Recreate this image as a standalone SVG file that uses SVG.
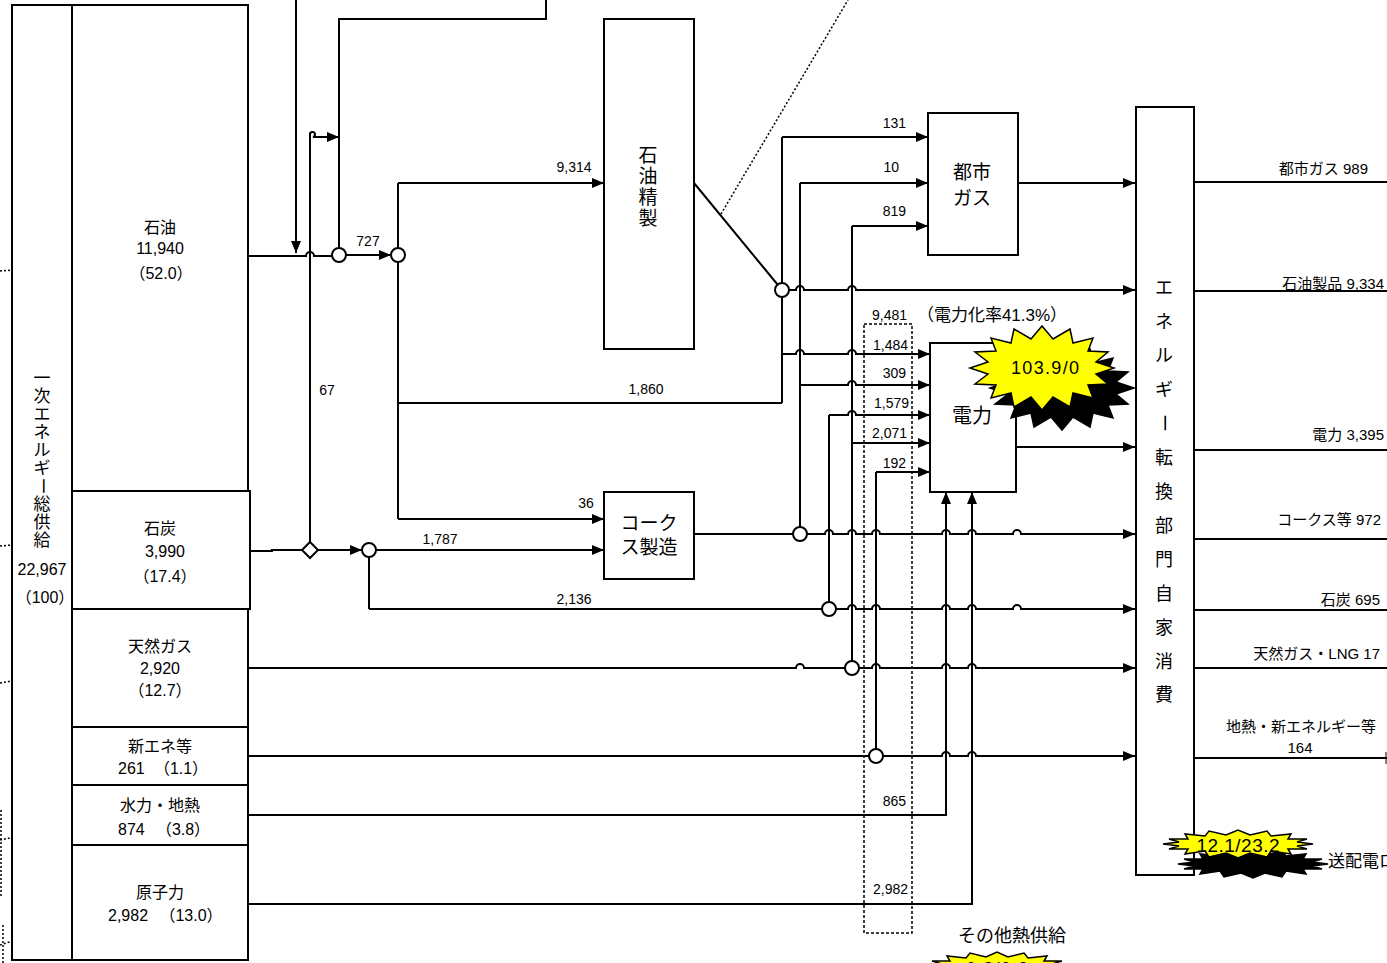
<svg xmlns="http://www.w3.org/2000/svg" width="1387" height="963" viewBox="0 0 1387 963">
<style>
text{font-family:"Liberation Sans","Noto Sans CJK JP",sans-serif;fill:#000;dominant-baseline:central}
.c{text-anchor:middle}
.e{text-anchor:end}
.s{font-size:14px}
.m{font-size:16px}
.r{font-size:15px}
.b{font-size:19px}
.box{fill:#fff;stroke:#000;stroke-width:2}
.ln{fill:none;stroke:#000;stroke-width:2}
.dot{fill:none;stroke:#000;stroke-width:1.5;stroke-dasharray:2 2}
.jn{fill:#fff;stroke:#000;stroke-width:2}
</style>
<defs>
<marker id="a" markerWidth="12" markerHeight="10" refX="12" refY="5" orient="auto" markerUnits="userSpaceOnUse"><path d="M0,0 L12,5 L0,10 z" fill="#000"/></marker>
</defs>
<rect width="1387" height="963" fill="#fff"/>

<g id="dotted">
<path class="dot" d="M0,271 L115,263"/>
<path class="dot" d="M0,546 L113,537"/>
<path class="dot" d="M0,683 L120,663"/>
<path class="dot" d="M0,840 L100,820"/>
<path class="dot" d="M1,810 V898"/>
<path class="dot" d="M0,945 L100,913"/>
<path class="dot" d="M3,925 V963"/>
<path class="dot" d="M721,214 L848,0"/>
</g>

<g id="connectors">
<path class="ln" d="M296,0 V253" marker-end="url(#a)"/>
<path class="ln" d="M546,0 V19 H339 V255"/>
<path class="ln" d="M248,256 H306 a4,4 0 0 1 8,0 H339"/>
<path class="ln" d="M346,255 H391" marker-end="url(#a)"/>
<path class="ln" d="M310,543 V135 A2.5,2.5 0 1 1 313,137 H339" marker-end="url(#a)"/>
<path class="ln" d="M398,183 V519"/>
<path class="ln" d="M398,183 H604" marker-end="url(#a)"/>
<path class="ln" d="M398,519 H604" marker-end="url(#a)"/>
<path class="ln" d="M398,403 H782"/>
<path class="ln" d="M250,551 H272 V550 H302"/>
<path class="ln" d="M318,550 H362" marker-end="url(#a)"/>
<path class="ln" d="M376,550 H604" marker-end="url(#a)"/>
<path class="ln" d="M369,550 V609"/>
<path class="ln" d="M694,183 L782,290"/>
<path class="ln" d="M782,137 V403"/>
<path class="ln" d="M782,137 H928" marker-end="url(#a)"/>
<path class="ln" d="M800,183 V534"/>
<path class="ln" d="M800,183 H928" marker-end="url(#a)"/>
<path class="ln" d="M852,226 V668"/>
<path class="ln" d="M852,226 H928" marker-end="url(#a)"/>
<path class="ln" d="M829,415 V609"/>
<path class="ln" d="M876,472 V756"/>
<path class="ln" d="M782,290 H796 a4,4 0 0 1 8,0 H848 a4,4 0 0 1 8,0 H1135" marker-end="url(#a)"/>
<path class="ln" d="M782,354 H796 a4,4 0 0 1 8,0 H848 a4,4 0 0 1 8,0 H930" marker-end="url(#a)"/>
<path class="ln" d="M800,385 H848 a4,4 0 0 1 8,0 H930" marker-end="url(#a)"/>
<path class="ln" d="M829,415 H848 a4,4 0 0 1 8,0 H930" marker-end="url(#a)"/>
<path class="ln" d="M852,443 H930" marker-end="url(#a)"/>
<path class="ln" d="M876,472 H930" marker-end="url(#a)"/>
<path class="ln" d="M1018,183 H1135" marker-end="url(#a)"/>
<path class="ln" d="M1016,447 H1135" marker-end="url(#a)"/>
<path class="ln" d="M694,534 H825 a4,4 0 0 1 8,0 H848 a4,4 0 0 1 8,0 H872 a4,4 0 0 1 8,0 H942 a4,4 0 0 1 8,0 H968 a4,4 0 0 1 8,0 H1013 a4,4 0 0 1 8,0 H1135" marker-end="url(#a)"/>
<path class="ln" d="M369,609 H848 a4,4 0 0 1 8,0 H872 a4,4 0 0 1 8,0 H942 a4,4 0 0 1 8,0 H968 a4,4 0 0 1 8,0 H1013 a4,4 0 0 1 8,0 H1135" marker-end="url(#a)"/>
<path class="ln" d="M248,668 H796 a4,4 0 0 1 8,0 H872 a4,4 0 0 1 8,0 H942 a4,4 0 0 1 8,0 H968 a4,4 0 0 1 8,0 H1135" marker-end="url(#a)"/>
<path class="ln" d="M248,756 H942 a4,4 0 0 1 8,0 H968 a4,4 0 0 1 8,0 H1135" marker-end="url(#a)"/>
<path class="ln" d="M248,815 H946 V492" marker-end="url(#a)"/>
<path class="ln" d="M248,904 H972 V492" marker-end="url(#a)"/>
<path class="ln" d="M1194,182 H1387"/>
<path class="ln" d="M1194,291 H1387"/>
<path class="ln" d="M1194,450 H1387"/>
<path class="ln" d="M1194,539 H1387"/>
<path class="ln" d="M1194,610 H1387"/>
<path class="ln" d="M1194,668 H1387"/>
<path class="ln" d="M1194,758 H1387"/>
<path class="ln" d="M1386,752 V764" style="stroke-width:1"/>
<rect x="864" y="324" width="48" height="609" fill="none" stroke="#000" stroke-width="1.5" stroke-dasharray="3 2"/>
</g>

<g id="junctions">
<circle class="jn" cx="339" cy="255" r="7"/>
<circle class="jn" cx="398" cy="255" r="7"/>
<path class="jn" d="M310,542 L318,550 L310,558 L302,550 z"/>
<circle class="jn" cx="369" cy="550" r="7"/>
<circle class="jn" cx="782" cy="290" r="7"/>
<circle class="jn" cx="800" cy="534" r="7"/>
<circle class="jn" cx="829" cy="609" r="7"/>
<circle class="jn" cx="852" cy="668" r="7"/>
<circle class="jn" cx="876" cy="756" r="7"/>
</g>

<g id="labels">
<text class="s c" x="368" y="241">727</text>
<text class="s c" x="327" y="390">67</text>
<text class="s c" x="574" y="167">9,314</text>
<text class="s c" x="646" y="389">1,860</text>
<text class="s c" x="586" y="503">36</text>
<text class="s c" x="440" y="539">1,787</text>
<text class="s c" x="574" y="599">2,136</text>
<text class="s e" x="906" y="123">131</text>
<text class="s e" x="899" y="167">10</text>
<text class="s e" x="906" y="211">819</text>
<text class="s e" x="907" y="315">9,481</text>
<text class="s e" x="908" y="345">1,484</text>
<text class="s e" x="906" y="373">309</text>
<text class="s e" x="909" y="403">1,579</text>
<text class="s e" x="907" y="433">2,071</text>
<text class="s e" x="906" y="463">192</text>
<text class="s e" x="906" y="801">865</text>
<text class="s e" x="908" y="889">2,982</text>
<text class="c" x="992" y="315" style="font-size:17px">（電力化率41.3%）</text>
<text class="r e" x="1368" y="168">都市ガス 989</text>
<text class="r e" x="1384" y="283">石油製品 9,334</text>
<text class="r e" x="1384" y="434">電力 3,395</text>
<text class="r e" x="1381" y="519">コークス等 972</text>
<text class="r e" x="1380" y="599">石炭 695</text>
<text class="r e" x="1380" y="653">天然ガス・LNG 17</text>
<text class="r c" x="1301" y="726">地熱・新エネルギー等</text>
<text class="r c" x="1300" y="747">164</text>
<text x="1012" y="936" class="c" style="font-size:18px">その他熱供給</text>
</g>

<g id="total">
<rect class="box" x="12" y="5" width="60" height="955"/>
<text class="c" x="42" y="378" style="font-size:17px">一</text>
<text class="c" x="42" y="396" style="font-size:17px">次</text>
<text class="c" x="42" y="414" style="font-size:17px">エ</text>
<text class="c" x="42" y="432" style="font-size:17px">ネ</text>
<text class="c" x="42" y="450" style="font-size:17px">ル</text>
<text class="c" x="42" y="468" style="font-size:17px">ギ</text>
<text class="c" x="42" y="486" style="font-size:17px" transform="rotate(90 42 486)">ー</text>
<text class="c" x="42" y="504" style="font-size:17px">総</text>
<text class="c" x="42" y="522" style="font-size:17px">供</text>
<text class="c" x="42" y="540" style="font-size:17px">給</text>
<text class="m c" x="42" y="569">22,967</text>
<text class="m c" x="45" y="597">（100）</text>
</g>

<g id="oil">
<rect class="box" x="72" y="5" width="176" height="486"/>
<text class="m c" x="160" y="227">石油</text>
<text class="m c" x="160" y="248">11,940</text>
<text class="m c" x="161" y="273">（52.0）</text>
</g>
<g id="coal">
<rect class="box" x="72" y="491" width="178" height="118"/>
<text class="m c" x="160" y="528">石炭</text>
<text class="m c" x="165" y="551">3,990</text>
<text class="m c" x="165" y="576">（17.4）</text>
</g>
<g id="gas">
<rect class="box" x="72" y="609" width="176" height="118"/>
<text class="m c" x="160" y="646">天然ガス</text>
<text class="m c" x="160" y="668">2,920</text>
<text class="m c" x="160" y="690">（12.7）</text>
</g>
<g id="newene">
<rect class="box" x="72" y="727" width="176" height="58"/>
<text class="m c" x="160" y="746">新エネ等</text>
<text class="m" x="118" y="768">261</text>
<text class="m c" x="181" y="768">（1.1）</text>
</g>
<g id="hydro">
<rect class="box" x="72" y="785" width="176" height="60"/>
<text class="m c" x="160" y="805">水力・地熱</text>
<text class="m" x="118" y="829">874</text>
<text class="m c" x="183" y="829">（3.8）</text>
</g>
<g id="nuclear">
<rect class="box" x="72" y="845" width="176" height="115"/>
<text class="m c" x="160" y="892">原子力</text>
<text class="m" x="108" y="915">2,982</text>
<text class="m c" x="191" y="915">（13.0）</text>
</g>

<g id="refinery">
<rect class="box" x="604" y="19" width="90" height="330"/>
<text class="b c" x="648" y="155">石</text>
<text class="b c" x="648" y="176">油</text>
<text class="b c" x="648" y="197">精</text>
<text class="b c" x="648" y="218">製</text>
</g>
<g id="coke">
<rect class="box" x="604" y="492" width="90" height="87"/>
<text class="b c" x="649" y="523">コーク</text>
<text class="b c" x="649" y="547">ス製造</text>
</g>
<g id="citygas">
<rect class="box" x="928" y="113" width="90" height="142"/>
<text class="b c" x="972" y="172">都市</text>
<text class="b c" x="972" y="198">ガス</text>
</g>
<g id="power">
<rect class="box" x="930" y="343" width="86" height="149"/>
<text class="c" x="972" y="416" style="font-size:20px">電力</text>
</g>
<g id="burst1">
<polygon transform="translate(20,20)" fill="#000" stroke="#000" stroke-width="1.5" points="1114,368 1096,374 1108,384 1088,385 1093,398 1073,393 1070,407 1053,397 1042,410 1031,397 1014,407 1011,393 991,398 996,385 975,384 988,374 970,368 988,362 975,352 996,351 991,338 1011,343 1014,329 1031,339 1042,326 1053,339 1070,329 1073,343 1093,338 1088,351 1108,352 1096,362"/>
<polygon fill="#ff0" stroke="#000" stroke-width="1.5" points="1114,368 1096,374 1108,384 1088,385 1093,398 1073,393 1070,407 1053,397 1042,410 1031,397 1014,407 1011,393 991,398 996,385 975,384 988,374 970,368 988,362 975,352 996,351 991,338 1011,343 1014,329 1031,339 1042,326 1053,339 1070,329 1073,343 1093,338 1088,351 1108,352 1096,362"/>
<text class="c" x="1045" y="368" style="font-size:18px" textLength="68" lengthAdjust="spacing">103.9/0</text>
</g>
<g id="conversion">
<rect class="box" x="1136" y="107" width="58" height="768"/>
<text class="c" x="1164" y="288" style="font-size:18px">エ</text>
<text class="c" x="1164" y="322" style="font-size:18px">ネ</text>
<text class="c" x="1164" y="356" style="font-size:18px">ル</text>
<text class="c" x="1164" y="390" style="font-size:18px">ギ</text>
<text class="c" x="1164" y="423" style="font-size:18px" transform="rotate(90 1164 423)">ー</text>
<text class="c" x="1164" y="458" style="font-size:18px">転</text>
<text class="c" x="1164" y="492" style="font-size:18px">換</text>
<text class="c" x="1164" y="526" style="font-size:18px">部</text>
<text class="c" x="1164" y="560" style="font-size:18px">門</text>
<text class="c" x="1164" y="594" style="font-size:18px">自</text>
<text class="c" x="1164" y="628" style="font-size:18px">家</text>
<text class="c" x="1164" y="662" style="font-size:18px">消</text>
<text class="c" x="1164" y="695" style="font-size:18px">費</text>
</g>
<g id="burst2">
<polygon transform="translate(15,20)" fill="#000" stroke="#000" stroke-width="1.5" points="1313,844 1297,846 1307,849 1288,849 1291,854 1271,851 1267,857 1250,853 1238,858 1226,853 1209,857 1205,851 1185,854 1188,849 1169,849 1179,846 1163,844 1179,842 1169,839 1188,839 1185,834 1205,836 1209,831 1226,835 1238,830 1250,835 1267,831 1271,836 1291,834 1288,839 1307,839 1297,842"/>
<polygon fill="#ff0" stroke="#000" stroke-width="1.5" points="1313,844 1297,846 1307,849 1288,849 1291,854 1271,851 1267,857 1250,853 1238,858 1226,853 1209,857 1205,851 1185,854 1188,849 1169,849 1179,846 1163,844 1179,842 1169,839 1188,839 1185,834 1205,836 1209,831 1226,835 1238,830 1250,835 1267,831 1271,836 1291,834 1288,839 1307,839 1297,842"/>
<text class="c" x="1238" y="845" style="font-size:19px" textLength="83" lengthAdjust="spacing">12.1/23.2</text>
<text x="1328" y="861" style="font-size:17px">送配電ロス</text>
</g>
<g id="burst3">
<polygon fill="#ff0" stroke="#000" stroke-width="1.5" points="927,966 942,964 932,961 950,961 947,956 966,958 970,953 986,957 997,952 1008,957 1024,953 1028,958 1047,956 1044,961 1062,961 1052,964 1067,966 1067,980 927,980"/>
<text class="c" x="997" y="969" style="font-size:18px" textLength="62" lengthAdjust="spacing">0.3/0.3</text>
</g>
</svg>
